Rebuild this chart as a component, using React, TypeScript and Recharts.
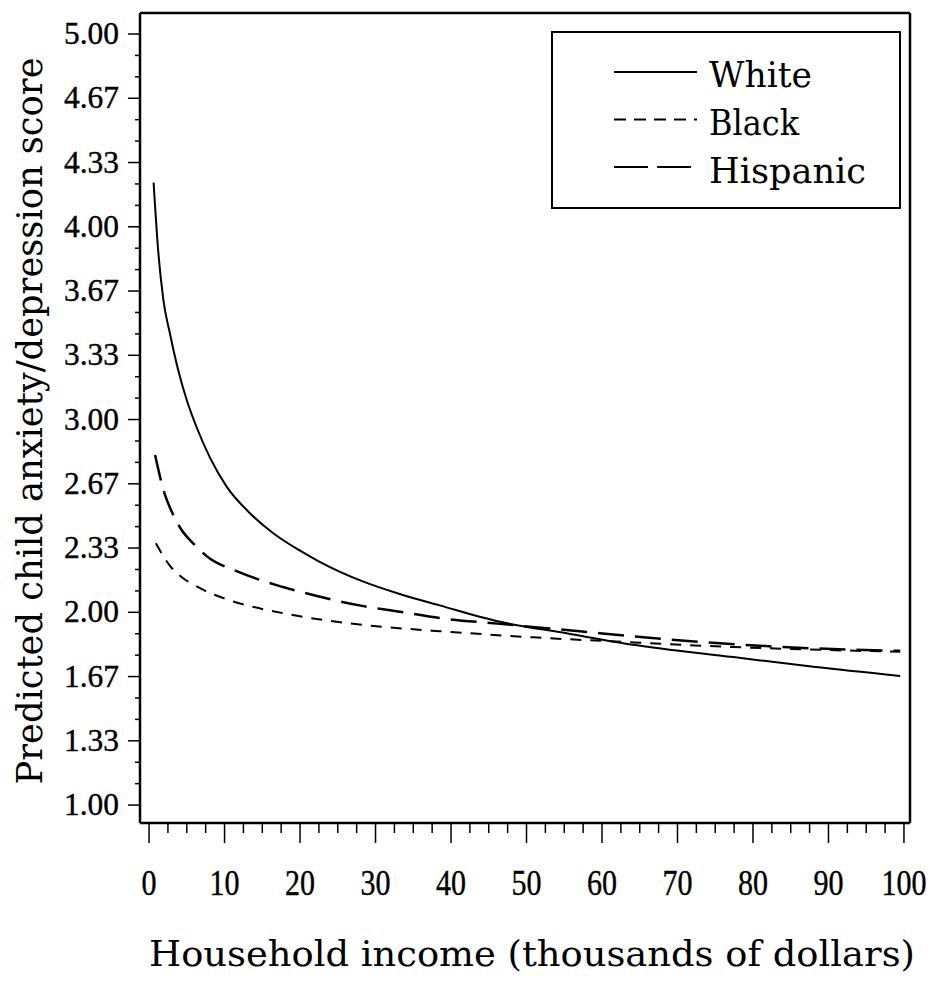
import React from "react";
import { LineChart, Line, XAxis, YAxis, Legend } from "recharts";

// ---- data ----
const whiteIncome = [0.6, 1.2, 1.9, 2.8, 3.9, 5, 6.3, 8.1, 10.3, 13.4, 16.5, 20, 22.6, 28.4, 33.2, 38.5, 46.5, 55.3, 64.1, 77.4, 88, 99.5];
const whiteScore = [4.23, 3.88, 3.62, 3.44, 3.25, 3.1, 2.96, 2.8, 2.651, 2.513, 2.409, 2.32, 2.262, 2.159, 2.095, 2.036, 1.951, 1.891, 1.832, 1.768, 1.717, 1.67];

const blackIncome = [0.9, 2.8, 4.1, 6.75, 10.7, 14.7, 18.2, 28.4, 34.6, 38.5, 50.9, 64.1, 77.4, 99.5];
const blackScore = [2.358, 2.24, 2.19, 2.125, 2.062, 2.02, 1.992, 1.934, 1.913, 1.902, 1.87, 1.844, 1.82, 1.795];

const hispanicIncome = [0.8, 2.1, 2.8, 4.1, 6.3, 8, 11.2, 16.9, 20, 28.4, 33.2, 38.5, 46.5, 55.3, 68.6, 84, 99.5];
const hispanicScore = [2.816, 2.61, 2.54, 2.44, 2.34, 2.28, 2.22, 2.141, 2.107, 2.032, 2.003, 1.97, 1.94, 1.908, 1.86, 1.82, 1.8];

const xMajorTicks = [0, 10, 20, 30, 40, 50, 60, 70, 80, 90, 100];
const xTickLabels = ["0", "10", "20", "30", "40", "50", "60", "70", "80", "90", "100"];
const yMajorTicks = [1, 4 / 3, 5 / 3, 2, 7 / 3, 8 / 3, 3, 10 / 3, 11 / 3, 4, 13 / 3, 14 / 3, 5];
const yTickLabels = ["1.00", "1.33", "1.67", "2.00", "2.33", "2.67", "3.00", "3.33", "3.67", "4.00", "4.33", "4.67", "5.00"];

const seriesNames = ["White", "Black", "Hispanic"];

// ---- build tables ----
const toRows = (xs: number[], ys: number[]) => xs.map((x, i) => ({ x, y: ys[i] }));
const whiteData = toRows(whiteIncome, whiteScore);
const blackData = toRows(blackIncome, blackScore);
const hispanicData = toRows(hispanicIncome, hispanicScore);

const xTicks: number[] = [];
xMajorTicks.forEach((v, i) => {
  xTicks.push(v);
  if (i < xMajorTicks.length - 1) {
    const step = (xMajorTicks[i + 1] - v) / 4;
    xTicks.push(v + step, v + 2 * step, v + 3 * step);
  }
});
const yTicks: number[] = [];
yMajorTicks.forEach((v, i) => {
  yTicks.push(v);
  if (i < yMajorTicks.length - 1) {
    const step = (yMajorTicks[i + 1] - v) / 3;
    yTicks.push(v + step, v + 2 * step);
  }
});

const SERIF = "'Liberation Serif', 'Times New Roman', serif";
const WIDE_SERIF = "'DejaVu Serif', serif";
const X_DOMAIN: [number, number] = [-1.2, 100.8];
const Y_DOMAIN: [number, number] = [0.907, 5.109];

const XTick = (props: any) => {
  const { x, y, payload } = props;
  const idx = xMajorTicks.findIndex((m) => Math.abs(m - payload.value) < 1e-6);
  const major = idx >= 0;
  return (
    <g>
      <line x1={x} x2={x} y1={y} y2={y + (major ? 20 : 10)} stroke="#000" strokeWidth={1.5} />
      {major && (
        <text
          x={x}
          y={y + 72}
          textAnchor="middle"
          fontFamily={SERIF}
          fontSize={35}
          fill="#000"
          stroke="#000"
          strokeWidth={0.4}
          textLength={15 * xTickLabels[idx].length}
          lengthAdjust="spacingAndGlyphs"
        >
          {xTickLabels[idx]}
        </text>
      )}
    </g>
  );
};

const YTick = (props: any) => {
  const { x, y, payload } = props;
  const idx = yMajorTicks.findIndex((m) => Math.abs(m - payload.value) < 1e-6);
  const major = idx >= 0;
  return (
    <g>
      <line x1={x} x2={x - (major ? 12 : 5)} y1={y} y2={y} stroke="#000" strokeWidth={1.5} />
      {major && (
        <text
          x={x - 21}
          y={y + 10}
          textAnchor="end"
          fontFamily={SERIF}
          fontSize={31}
          fill="#000"
          stroke="#000"
          strokeWidth={0.4}
          textLength={55}
          lengthAdjust="spacingAndGlyphs"
        >
          {yTickLabels[idx]}
        </text>
      )}
    </g>
  );
};

const YLabel = () => (
  <text
    x={42}
    y={421}
    transform="rotate(-90 42 421)"
    textAnchor="middle"
    fontFamily={WIDE_SERIF}
    fontSize={35}
    fill="#000"
    textLength={727}
    lengthAdjust="spacingAndGlyphs"
  >
    Predicted  child  anxiety/depression  score
  </text>
);

const XLabel = () => (
  <text
    x={532}
    y={966}
    textAnchor="middle"
    fontFamily={WIDE_SERIF}
    fontSize={36}
    fill="#000"
    textLength={766}
    lengthAdjust="spacingAndGlyphs"
  >
    Household income (thousands of dollars)
  </text>
);

const legendDash = ["", "12 8", "34 9"];
const legendTextLen = [103, 90, 157];

const renderLegend = () => (
  <svg width={352} height={180} style={{ display: "block" }}>
    <rect x={1} y={1} width={348} height={176} fill="#fff" stroke="#000" strokeWidth={2} />
    {seriesNames.map((name, i) => (
      <g key={name}>
        <line
          x1={63}
          x2={146}
          y1={41 + i * 47.5}
          y2={41 + i * 47.5}
          stroke="#000"
          strokeWidth={2}
          strokeDasharray={legendDash[i] || undefined}
        />
        <text
          x={158}
          y={56 + i * 48}
          fontFamily={WIDE_SERIF}
          fontSize={36}
          fill="#000"
          textLength={legendTextLen[i]}
          lengthAdjust="spacingAndGlyphs"
        >
          {name}
        </text>
      </g>
    ))}
  </svg>
);

export default function App() {
  return (
    <div style={{ position: "absolute", left: 0, top: 0, background: "#fff" }}>
      <LineChart width={933} height={983} margin={{ top: 12, right: 22, left: 0, bottom: 0 }}>
        <XAxis
          xAxisId="bottom"
          dataKey="x"
          type="number"
          domain={X_DOMAIN}
          allowDataOverflow
          ticks={xTicks}
          interval={0}
          tick={<XTick />}
          tickLine={false}
          tickSize={0}
          tickMargin={0}
          height={160}
          axisLine={{ stroke: "#000", strokeWidth: 2.5 }}
          label={<XLabel />}
        />
        <XAxis
          xAxisId="top"
          orientation="top"
          dataKey="x"
          type="number"
          domain={X_DOMAIN}
          allowDataOverflow
          ticks={[0]}
          tick={false}
          tickLine={false}
          height={1}
          axisLine={{ stroke: "#000", strokeWidth: 2.5 }}
        />
        <YAxis
          yAxisId="left"
          type="number"
          domain={Y_DOMAIN}
          allowDataOverflow
          ticks={yTicks}
          interval={0}
          tick={<YTick />}
          tickLine={false}
          tickSize={0}
          tickMargin={0}
          width={140}
          axisLine={{ stroke: "#000", strokeWidth: 2.5 }}
          label={<YLabel />}
        />
        <YAxis
          yAxisId="right"
          orientation="right"
          type="number"
          domain={Y_DOMAIN}
          allowDataOverflow
          ticks={[1]}
          tick={false}
          tickLine={false}
          width={1}
          axisLine={{ stroke: "#000", strokeWidth: 2.5 }}
        />
        <Legend
          layout="vertical"
          align="center"
          verticalAlign="middle"
          content={renderLegend}
          wrapperStyle={{ position: "absolute", left: 551, top: 31, width: 352, height: 180 }}
        />
        <Line
          xAxisId="bottom"
          yAxisId="left"
          data={whiteData}
          dataKey="y"
          name="White"
          type="monotone"
          stroke="#000"
          strokeWidth={2}
          dot={false}
          isAnimationActive={false}
        />
        <Line
          xAxisId="bottom"
          yAxisId="left"
          data={blackData}
          dataKey="y"
          name="Black"
          type="monotone"
          stroke="#000"
          strokeWidth={2}
          strokeDasharray="11 9"
          dot={false}
          isAnimationActive={false}
        />
        <Line
          xAxisId="bottom"
          yAxisId="left"
          data={hispanicData}
          dataKey="y"
          name="Hispanic"
          type="monotone"
          stroke="#000"
          strokeWidth={2.5}
          strokeDasharray="26 11"
          dot={false}
          isAnimationActive={false}
        />
      </LineChart>
    </div>
  );
}
